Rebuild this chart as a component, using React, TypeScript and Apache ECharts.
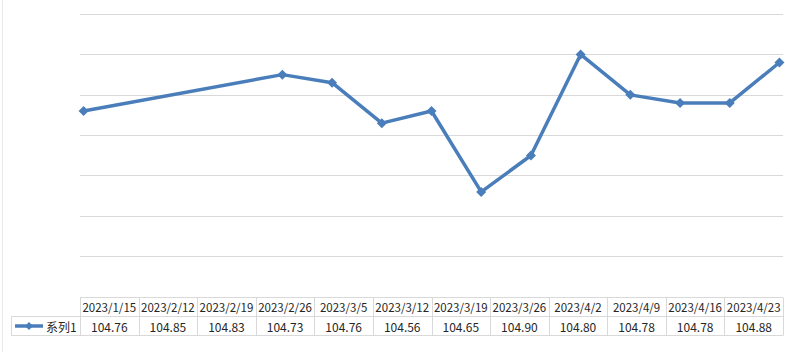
import React, { useEffect, useRef } from "react";
import * as echarts from "echarts";

const dates = ["2023/1/15", "2023/2/12", "2023/2/19", "2023/2/26", "2023/3/5", "2023/3/12", "2023/3/19", "2023/3/26", "2023/4/2", "2023/4/9", "2023/4/16", "2023/4/23"];
const values = [104.76, 104.85, 104.83, 104.73, 104.76, 104.56, 104.65, 104.9, 104.8, 104.78, 104.78, 104.88];
const seriesName = "系列1";
const yMin = 104.3;
const yMax = 105.0;
const yStep = 0.1;
const axisStart = "2023/1/15";
const axisEnd = "2023/4/24";

const toTime = (s: string, hour = 0) => {
  const [y, m, d] = s.split("/").map(Number);
  return Date.UTC(y, m - 1, d, hour);
};

const BLUE = "#4A7EBB";
const GRID = "#D9D9D9";
const TEXT = "#262626";
const FONT = "'Noto Sans CJK SC', 'Liberation Sans', sans-serif";

export default function App() {
  const ref = useRef<HTMLDivElement>(null);
  useEffect(() => {
    if (!ref.current) return;
    const chart = echarts.init(ref.current, undefined, { renderer: "svg" });
    const L = 80;
    const W = 703;
    const R = L + W;
    const colW = W / dates.length;
    const top = 297.5;
    const rowH = 19;
    const legL = 11.5;
    const graphics: any[] = [];
    const hline = (x1: number, x2: number, y: number) =>
      graphics.push({ type: "line", silent: true, shape: { x1, y1: y, x2, y2: y }, style: { stroke: GRID, lineWidth: 1 } });
    const vline = (x: number, y1: number, y2: number) =>
      graphics.push({ type: "line", silent: true, shape: { x1: x, y1, x2: x, y2 }, style: { stroke: GRID, lineWidth: 1 } });
    hline(L, R, top);
    hline(legL, R, top + rowH);
    hline(legL, R, top + 2 * rowH);
    vline(legL, top + rowH, top + 2 * rowH);
    for (let k = 0; k <= dates.length; k++) {
      const x = Math.round(L + k * colW) + 0.5;
      vline(x, top, top + 2 * rowH);
    }
    dates.forEach((d, k) => {
      const cx = L + (k + 0.5) * colW;
      graphics.push({
        type: "text", silent: true, x: cx, y: top + rowH / 2,
        style: { text: d, fill: TEXT, font: `11.5px ${FONT}`, align: "center", verticalAlign: "middle" },
      });
      graphics.push({
        type: "text", silent: true, x: cx, y: top + rowH * 1.5,
        style: { text: values[k].toFixed(2), fill: TEXT, font: `12px ${FONT}`, align: "center", verticalAlign: "middle" },
      });
    });
    const ly = top + rowH * 1.5;
    graphics.push({ type: "line", silent: true, shape: { x1: 15, y1: ly, x2: 43, y2: ly }, style: { stroke: BLUE, lineWidth: 3.5 } });
    graphics.push({
      type: "polygon", silent: true,
      shape: { points: [[29, ly - 4], [33, ly], [29, ly + 4], [25, ly]] },
      style: { fill: BLUE },
    });
    graphics.push({
      type: "text", silent: true, x: 46, y: ly,
      style: { text: seriesName, fill: TEXT, font: `12px ${FONT}`, align: "left", verticalAlign: "middle" },
    });
    graphics.push({ type: "line", silent: true, shape: { x1: 2.5, y1: 0, x2: 2.5, y2: 352 }, style: { stroke: "#EAEAEA", lineWidth: 1 } });

    chart.setOption({
      animation: false,
      grid: { left: L, right: 785 - R, top: 14, bottom: 352 - 297 },
      xAxis: {
        type: "time",
        min: toTime(axisStart),
        max: toTime(axisEnd),
        axisLine: { show: false },
        axisTick: { show: false },
        axisLabel: { show: false },
        splitLine: { show: false },
      },
      yAxis: {
        type: "value",
        min: yMin,
        max: yMax,
        interval: yStep,
        axisLine: { show: false },
        axisTick: { show: false },
        axisLabel: { show: false },
        splitLine: { lineStyle: { color: GRID, width: 1 } },
      },
      series: [
        {
          name: seriesName,
          type: "line",
          data: dates.map((d, i) => [toTime(d, 12), values[i]]),
          symbol: "diamond",
          symbolSize: 10,
          showSymbol: true,
          lineStyle: { color: BLUE, width: 3.5 },
          itemStyle: { color: BLUE },
          z: 3,
        },
      ],
      graphic: graphics,
    });
    return () => chart.dispose();
  }, []);
  return <div ref={ref} style={{ width: 785, height: 352, position: "absolute", left: 0, top: 0 }} />;
}
